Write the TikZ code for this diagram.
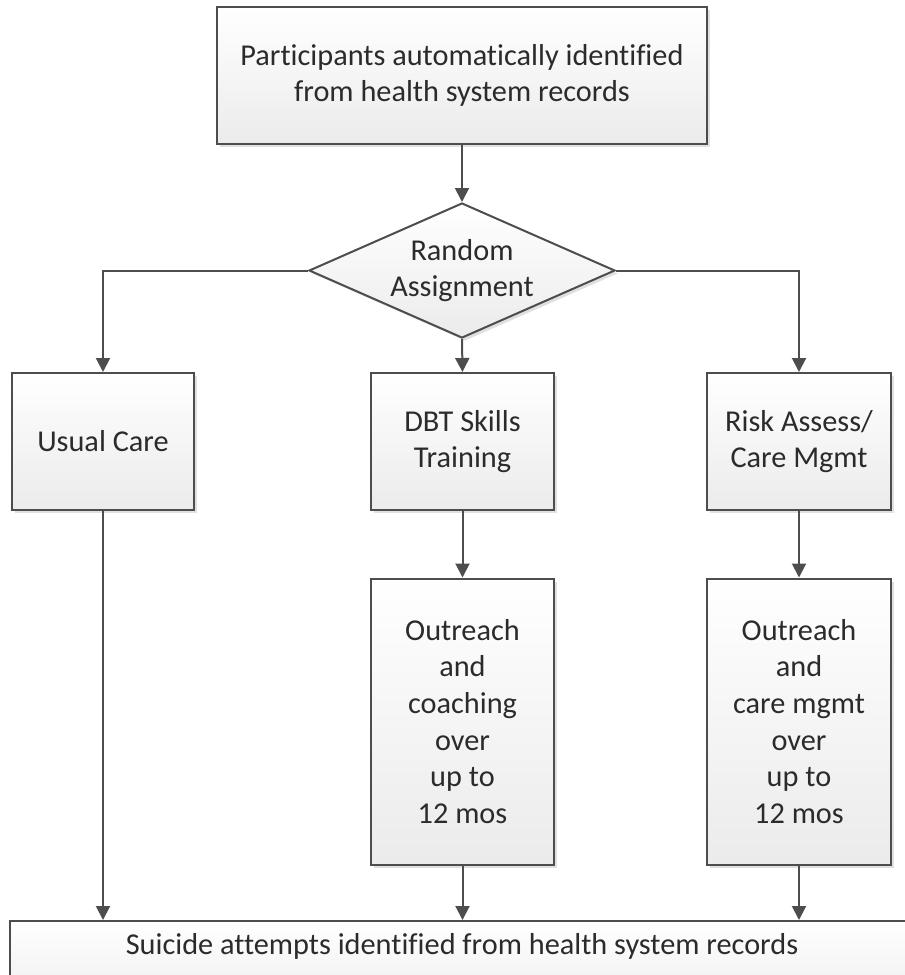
\documentclass[tikz,border=0pt]{standalone}
\usepackage{fontspec}
\setmainfont{Carlito}[Ligatures={NoCommon,NoDiscretionary,NoContextual}]
\usetikzlibrary{shapes.geometric,arrows.meta,shadows}
\definecolor{linec}{HTML}{4D4D4D}
\definecolor{textc}{HTML}{2B2B2B}
\definecolor{fillbot}{HTML}{EBEBEB}
\tikzset{
  box/.style={draw=linec, line width=2pt, rectangle, inner sep=0pt,
    top color=white, bottom color=fillbot, text=textc, align=center,
    font=\fontsize{30.3}{36.7}\selectfont,
    drop shadow={shadow xshift=3pt, shadow yshift=-3pt, opacity=0.12, fill=black}},
  dia/.style={draw=linec, line width=2pt, diamond, inner sep=0pt,
    top color=white, bottom color=fillbot,
    drop shadow={shadow xshift=3pt, shadow yshift=-3pt, opacity=0.12, fill=black}},
  txt/.style={text=textc, align=center, inner sep=0pt,
    font=\fontsize{30.3}{36.7}\selectfont},
  arr/.style={draw=linec, line width=2pt,
    -{Triangle[length=14pt,width=14pt]}},
}
\begin{document}
\begin{tikzpicture}[x=1pt,y=-1pt]
\useasboundingbox (0,0) rectangle (905,975);
\clip (0,0) rectangle (905,975);
\node[box, minimum width=490, minimum height=137] (top) at (462,75.5)
  {Participants automatically identified\\from health system records};
\node[dia, minimum width=306, minimum height=135] (rand) at (462,270.5) {};
\node[txt] (randtxt) at (rand) {Random\\Assignment};
\node[box, minimum width=182, minimum height=137] (usual) at (103,441.5) {Usual Care};
\node[box, minimum width=183, minimum height=137] (dbt) at (462.5,441.5) {DBT Skills\\Training};
\node[box, minimum width=184, minimum height=137] (risk) at (799,441.5) {Risk Assess/\\Care Mgmt};
\node[box, minimum width=183, minimum height=286] (out1) at (462.5,721.5)
  {Outreach\\and\\coaching\\over\\up to\\12 mos};
\node[box, minimum width=184, minimum height=286] (out2) at (799,721.5)
  {Outreach\\and\\care mgmt\\over\\up to\\12 mos};
\node[box, minimum width=904, minimum height=100] (bot) at (462,971) {};
\node[txt] (bottxt) at (462,946) {Suicide attempts identified from health system records};
\draw[arr] (top.south) -- (rand.north);
\draw[arr] (rand.west) -| (usual.north);
\draw[arr] (rand.east) -| (risk.north);
\draw[arr] (rand.south) -- (dbt.north);
\draw[arr] (dbt.south) -- (out1.north);
\draw[arr] (risk.south) -- (out2.north);
\draw[arr] (usual.south) -- (usual.south |- bot.north);
\draw[arr] (out1.south) -- (out1.south |- bot.north);
\draw[arr] (out2.south) -- (out2.south |- bot.north);
\end{tikzpicture}
\end{document}
